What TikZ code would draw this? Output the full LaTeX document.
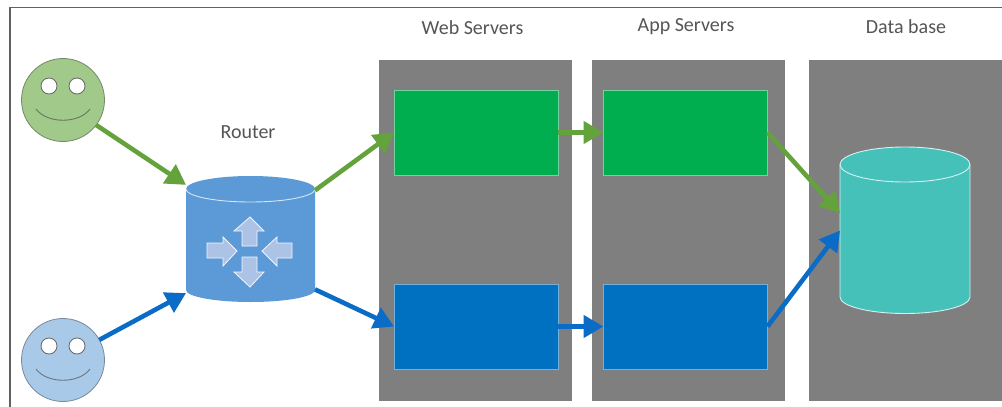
\documentclass[tikz,border=0pt]{standalone}
\usepackage{fontspec}
\setmainfont{Carlito}
\usetikzlibrary{arrows.meta}
\definecolor{panelgray}{HTML}{7F7F7F}
\definecolor{srvgreen}{HTML}{00AE50}
\definecolor{srvblue}{HTML}{0070C0}
\definecolor{arrgreen}{HTML}{64A33C}
\definecolor{arrblue}{HTML}{0A6CC6}
\definecolor{facegreen}{HTML}{A0C98A}
\definecolor{faceblue}{HTML}{A9C9E8}
\definecolor{routerblue}{HTML}{5B9AD6}
\definecolor{dirfill}{HTML}{ADC3E6}
\definecolor{dbteal}{HTML}{45C1BA}
\definecolor{labelgray}{HTML}{555555}
\tikzset{
  panel/.style={fill=panelgray,draw=none,inner sep=0,outer sep=0,minimum height=341pt,minimum width=193pt},
  serverbox/.style={draw=#1!55!white,line width=.8pt,fill=#1,inner sep=0,outer sep=0,minimum width=164pt,minimum height=85pt},
  face/.style={circle,draw=#1!70!black!75!gray,line width=.8pt,fill=#1,inner sep=0,outer sep=0,minimum size=83pt},
  eye/.style={circle,draw=gray!80!black,line width=.8pt,fill=white,inner sep=0,minimum size=16pt},
  smile/.style={draw=#1,line width=.9pt},
  label/.style={text=labelgray,font=\fontsize{20}{22}\selectfont,inner sep=0},
  anchorbox/.style={inner sep=0,outer sep=0,draw=none},
  flowg/.style={draw=arrgreen,line width=4.6pt,-{Triangle[length=20pt,width=22pt,fill=arrgreen]}},
  flowb/.style={draw=arrblue,line width=4.6pt,-{Triangle[length=20pt,width=22pt,fill=arrblue]}},
  dirarrow/.style={fill=dirfill,draw=white!85!dirfill,line width=.8pt,line join=miter},
}
\begin{document}
\begin{tikzpicture}[x=1pt,y=-1pt]
\useasboundingbox (0,0) rectangle (1002,407);
\fill[white] (0,0) rectangle (1002,407);
\coordinate (frameTL) at (10,7.5);
\coordinate (frameTR) at (1002,7.5);
\coordinate (frameBL) at (10,407);
\draw[draw=black!62,line width=1.3pt] (frameBL) -- (frameTL) -- (frameTR);
% panels
\node[panel] (webpanel) at (475.5,230.5) {};
\node[panel] (apppanel) at (688.5,230.5) {};
\node[panel] (dbpanel) at (905.5,230.5) {};
% labels
\node[label] (weblabel) at (472.5,27.5) {Web Servers};
\node[label] (applabel) at (686,27) {App Servers};
\node[label] (dblabel) at (906,27) {Data base};
\node[label] (routerlabel) at (248,132) {Router};
% servers
\node[serverbox=srvgreen] (webg) at (476,132.5) {};
\node[serverbox=srvgreen] (appg) at (685.5,132.5) {};
\node[serverbox=srvblue] (webb) at (476,326.5) {};
\node[serverbox=srvblue] (appb) at (685.5,326.5) {};
% faces
\node[face=facegreen] (usera) at (63,100) {};
\node[face=faceblue] (userb) at (63,360) {};
\node[eye] (ea1) at (49,86) {};
\node[eye] (ea2) at (77,86) {};
\node[eye] (eb1) at (49,346) {};
\node[eye] (eb2) at (77,346) {};
\draw[smile=black!45!facegreen!60!gray] (36,109) .. controls (47,124) and (79,124) .. (90,109);
\draw[smile=black!45!faceblue!60!gray] (36,369) .. controls (47,384) and (79,384) .. (90,369);
% router cylinder
\fill[routerblue] (186,189) arc[start angle=180,end angle=0,x radius=64.5pt,y radius=13pt]
  -- (315,290) arc[start angle=0,end angle=-180,x radius=64.5pt,y radius=12pt] -- cycle;
\draw[white!75!routerblue,line width=.9pt] (186,189) arc[start angle=180,end angle=360,x radius=64.5pt,y radius=13pt];
\node[anchorbox,minimum width=129pt,minimum height=126pt] (router) at (250.5,239) {};
% router direction arrows
\draw[dirarrow] (250,217) -- (264,231) -- (257,231) -- (257,246) -- (242,246) -- (242,231) -- (234,231) -- cycle;
\draw[dirarrow] (250,287) -- (264,272) -- (257,272) -- (257,257) -- (242,257) -- (242,272) -- (234,272) -- cycle;
\draw[dirarrow] (237,251) -- (223,237) -- (223,243) -- (207,243) -- (207,258) -- (223,258) -- (223,266) -- cycle;
\draw[dirarrow] (262,251) -- (277,237) -- (277,243) -- (292,243) -- (292,258) -- (277,258) -- (277,266) -- cycle;
% database cylinder
\draw[fill=dbteal,draw=white!78!dbteal,line width=.9pt] (840,164.5) arc[start angle=180,end angle=0,x radius=65pt,y radius=17.5pt]
  -- (970,297) arc[start angle=0,end angle=-180,x radius=65pt,y radius=16.5pt] -- cycle;
\draw[white!78!dbteal,line width=.9pt] (840,164.5) arc[start angle=180,end angle=360,x radius=65pt,y radius=17.5pt];
\node[anchorbox,minimum width=130pt,minimum height=167pt] (db) at (905,230.5) {};
% connectors
\draw[flowg] (usera.-37) -- (router.140.6);
\draw[flowb] (userb.29) -- (router.-140.1);
\draw[flowg] (router.37.8) -- (webg.west);
\draw[flowb] (router.-38.9) -- (webb.west);
\draw[flowg] (webg.east) -- (appg.west);
\draw[flowb] (webb.east) -- (appb.west);
\draw[flowg] (appg.east) -- (db.165.8);
\draw[flowb] (appb.east) -- (db.180);
\end{tikzpicture}
\end{document}
